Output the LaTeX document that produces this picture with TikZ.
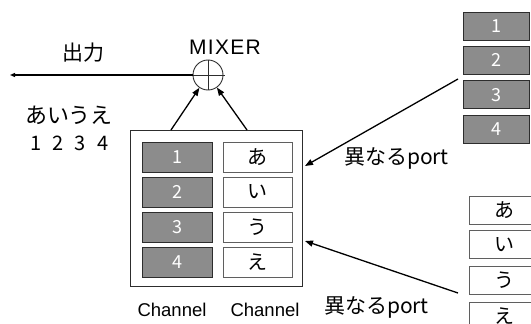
\documentclass[tikz,border=0pt]{standalone}
\usepackage{fontspec}
\setmainfont{Liberation Sans}
\newfontfamily\jp{Noto Sans CJK JP}
\usetikzlibrary{arrows.meta,calc}
\definecolor{boxgray}{RGB}{140,140,140}
\definecolor{darkline}{RGB}{45,45,45}
\definecolor{midline}{RGB}{95,95,95}
\tikzset{
  graybox/.style={draw=darkline, fill=boxgray, line width=0.9pt, minimum width=70pt, minimum height=30pt, inner sep=0pt, text=white, font=\jp\fontsize{18}{18}\selectfont},
  whitebox/.style={draw=midline, fill=white, line width=0.9pt, minimum width=69pt, minimum height=30pt, inner sep=0pt, font=\jp\fontsize{20}{20}\selectfont},
  rgraybox/.style={graybox, minimum width=66pt, minimum height=28pt},
  rwhitebox/.style={whitebox, minimum width=71pt, minimum height=28pt},
  jplabel/.style={inner sep=0pt, font=\jp\fontsize{21}{21}\selectfont},
  lalabel/.style={inner sep=0pt, font=\fontsize{18.5}{18.5}\selectfont},
  arr/.style={line width=1.3pt, -{Triangle[length=8pt,width=6pt]}},
  smallarr/.style={line width=1.1pt, -{Triangle[length=5pt,width=4pt]}},
}
\begin{document}
\begin{tikzpicture}[x=1pt,y=-1pt]
\useasboundingbox (0,0) rectangle (531,324);
\clip (0,0) rectangle (531,324);

% mixer
\node[circle, draw=darkline, line width=0.9pt, minimum size=30pt, inner sep=0pt] (mixer) at (208,75) {};
\draw[darkline, line width=0.9pt] (mixer.north) -- (mixer.south);
\draw[darkline, line width=0.9pt] (mixer.west) -- ($(mixer.east)+(2,0)$);
\node[inner sep=0pt, font=\fontsize{21}{21}\selectfont\addfontfeatures{LetterSpace=6}] (mixlabel) at (225,47.5) {MIXER};

% output
\coordinate (out) at (10,75);
\draw[smallarr] (mixer.west) -- (out);
\node[jplabel] (outlabel) at (83.5,52.5) {出力};

\node[inner sep=0pt, font=\jp\fontsize{22}{22}\selectfont] (kana) at (69,115) {あいうえ};
\node[inner sep=0pt, font=\jp\fontsize{20}{20}\selectfont] (digits) at (69.5,143) {1\hspace{0.55em}2\hspace{0.55em}3\hspace{0.55em}4};

% main box
\node[draw=darkline, line width=0.9pt, minimum width=172pt, minimum height=156pt, inner sep=0pt] (mainbox) at (216,208) {};
\foreach \i/\d/\k/\y in {1/1/あ/157, 2/2/い/192, 3/3/う/227, 4/4/え/262}{
  \node[graybox] (g\i) at (177,\y) {\d};
  \node[whitebox] (w\i) at (257.5,\y) {\k};
}
\coordinate (t1) at (171,130);
\coordinate (t2) at (247,130);
\draw[arr] (t1) -- (mixer);
\draw[arr] (t2) -- (mixer);

\node[lalabel] (ch1) at (172,309.5) {Channel};
\node[lalabel] (ch2) at (265,309.5) {Channel};

% right top stack
\foreach \i/\y in {1/26, 2/60.3, 3/94.6, 4/129}{
  \node[rgraybox] (rg\i) at (496,\y) {\i};
}
% right bottom stack (cut off by the right edge)
\foreach \i/\k/\y in {1/あ/210, 2/い/244.5, 3/う/280, 4/え/316}{
  \node[rwhitebox] (rw\i) at (504.5,\y) {\k\hspace{7pt}};
}

\coordinate (s1) at (458,79);
\coordinate (e1) at (305,166);
\draw[arr] (s1) -- (e1);
\coordinate (s2) at (458,293);
\coordinate (e2) at (305,241);
\draw[arr] (s2) -- (e2);

\node[jplabel] (port1) at (396.5,158) {異なるport};
\node[jplabel] (port2) at (376.5,307) {異なるport};
\end{tikzpicture}
\end{document}
